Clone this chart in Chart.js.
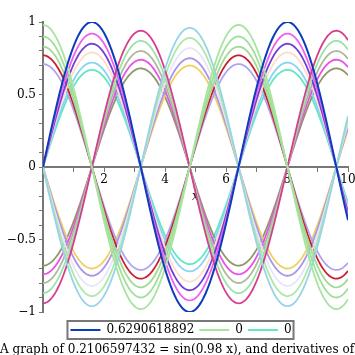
<!DOCTYPE html>
<html><head><meta charset="utf-8">
<script src="https://cdn.jsdelivr.net/npm/chart.js@4/dist/chart.umd.min.js"></script>
<style>html,body{margin:0;padding:0;background:#fff;overflow:hidden}canvas{display:block}</style>
</head><body>
<canvas id="c" width="355" height="355"></canvas>
<script>
// ---- data ----
const frequency = 0.98;              // from the title: sin(0.98 x)
const derivativeOrders = [0,1,2,3,4,5,6,7,8,9,10,11,12,13,14,15,16,17,18,19,20];
const amplitudes = [1.00,0.98,0.96,0.94,0.92,0.90,0.89,0.87,0.85,0.83,0.82,0.80,0.79,0.77,0.75,0.74,0.72,0.71,0.70,0.68,0.67];
const xRange = [0, 10];
const yRange = [-1, 1];
const xTickValues = [2, 4, 6, 8, 10];
const xTickLabels = ['2', '4', '6', '8', '10'];
const yTickValues = [-1, -0.5, 0, 0.5, 1];
const yTickLabels = ['\u22121', '\u22120.5', '0', '0.5', '1'];
const legendSeries = [0, 1, 20];
const legendLabels = ['0.6290618892', '0', '0'];
const axisLabel = 'x';
const titleText = 'A graph of 0.2106597432 = sin(0.98 x), and derivatives of sin(0.98 x)';

// ---- styles ----
const colors = ['#0b3cbc','#a6e4a0','#96d4e6','#d83c8c','#f060f0','#9ee09a','#aee8a6','#98e4a8',
  '#7040d8','#a4d894','#e8e4fc','#b0b89c','#ffdcc8','#c82030','#a894e8','#e850e8',
  '#88d4f4','#b0a4f0','#f0d060','#909868','#60e8c0'];
const fontFamily = '"DejaVu Serif", serif';
const axisColor = '#777777';

// curves: nth derivative of sin(0.98x) with the amplitude
const sampleCount = 241;
function curvePoints(n, amp) {
  const pts = [];
  for (let i = 0; i < sampleCount; i++) {
    const x = xRange[0] + (xRange[1] - xRange[0]) * i / (sampleCount - 1);
    pts.push({x: x, y: amp * Math.sin(frequency * x + n * Math.PI / 2)});
  }
  return pts;
}

const datasets = derivativeOrders.map((n, i) => ({
  label: String(n),
  data: curvePoints(n, amplitudes[i]),
  borderColor: colors[i],
  backgroundColor: colors[i],
  borderWidth: i === 0 ? 2 : 1.8,
  pointRadius: 0,
  tension: 0,
  fill: false
}));

function near(v, arr) { return arr.findIndex(a => Math.abs(a - v) < 1e-6); }

// place legend and caption under the plot like the original (caption may overflow the page)
const placeBlocks = {
  id: 'placeBlocks',
  afterLayout(chart) {
    const ca = chart.chartArea;
    const lg = chart.legend;
    if (lg) {
      const h = lg.bottom - lg.top;
      lg.top = ca.bottom + 7; lg.bottom = lg.top + h;
      lg.left += 7; lg.right += 7;
    }
    const tb = chart.titleBlock;
    if (tb) {
      const h = tb.bottom - tb.top;
      tb.top = ca.bottom + 32; tb.bottom = tb.top + h;
      tb.right = tb.left + 2000; tb.width = 2000;
    }
  },
  afterDraw(chart) {
    const hb = chart.legend && chart.legend.legendHitBoxes;
    if (!hb || !hb.length) return;
    const left = Math.min(...hb.map(h => h.left)) - 3;
    const right = Math.max(...hb.map(h => h.left + h.width)) + 2;
    const cy = hb[0].top + hb[0].height / 2;
    const ctx = chart.ctx;
    ctx.save();
    ctx.strokeStyle = axisColor;
    ctx.lineWidth = 2;
    ctx.strokeRect(left, cy - 9, right - left, 18);
    ctx.restore();
  }
};

new Chart(document.getElementById('c'), {
  type: 'line',
  data: { datasets },
  plugins: [placeBlocks],
  options: {
    responsive: false,
    animation: false,
    events: [],
    layout: { padding: { left: 0, right: 7, top: 22, bottom: 0 } },
    plugins: {
      tooltip: { enabled: false },
      legend: {
        position: 'bottom',
        labels: {
          usePointStyle: true,
          pointStyleWidth: 30,
          padding: 5,
          color: '#000',
          font: { family: fontFamily, size: 12 },
          generateLabels: () => legendSeries.map((di, k) => ({
            text: legendLabels[k], strokeStyle: colors[di], fillStyle: colors[di],
            lineWidth: 2, pointStyle: 'line', hidden: false, datasetIndex: di, fontColor: '#000'
          }))
        }
      },
      title: {
        display: true,
        position: 'bottom',
        align: 'start',
        text: titleText,
        color: '#000',
        font: { family: fontFamily, size: 12, weight: 'normal', lineHeight: 1 },
        padding: { top: 0, bottom: 4 }
      }
    },
    scales: {
      x: {
        type: 'linear',
        position: { y: 0 },
        min: xRange[0], max: xRange[1],
        border: { color: axisColor, width: 2 },
        grid: { drawOnChartArea: false, drawTicks: true, tickLength: 4, tickColor: axisColor, tickWidth: 1 },
        ticks: {
          stepSize: 1, autoSkip: false, maxRotation: 0, padding: 2, color: '#000',
          font: { family: fontFamily, size: 12 },
          callback: (v) => { const k = near(v, xTickValues); return k >= 0 ? xTickLabels[k] : ''; }
        },
        title: { display: true, text: axisLabel, color: '#000', padding: { top: 0, bottom: 0 },
          font: { family: fontFamily, size: 12, style: 'italic' } },
        afterFit: (s) => { s.paddingLeft = 0; s.paddingRight = 0; }
      },
      y: {
        type: 'linear',
        position: 'left',
        min: yRange[0], max: yRange[1],
        border: { color: axisColor, width: 2 },
        grid: { drawOnChartArea: false, drawTicks: true, tickLength: 4, tickColor: axisColor, tickWidth: 1 },
        ticks: {
          stepSize: 0.1, autoSkip: false, padding: 3, color: '#000',
          font: { family: fontFamily, size: 12 },
          callback: (v) => { const k = near(v, yTickValues); return k >= 0 ? yTickLabels[k] : ''; }
        },
        afterFit: (s) => { s.width = 43; }
      }
    }
  }
});
</script>
</body></html>
